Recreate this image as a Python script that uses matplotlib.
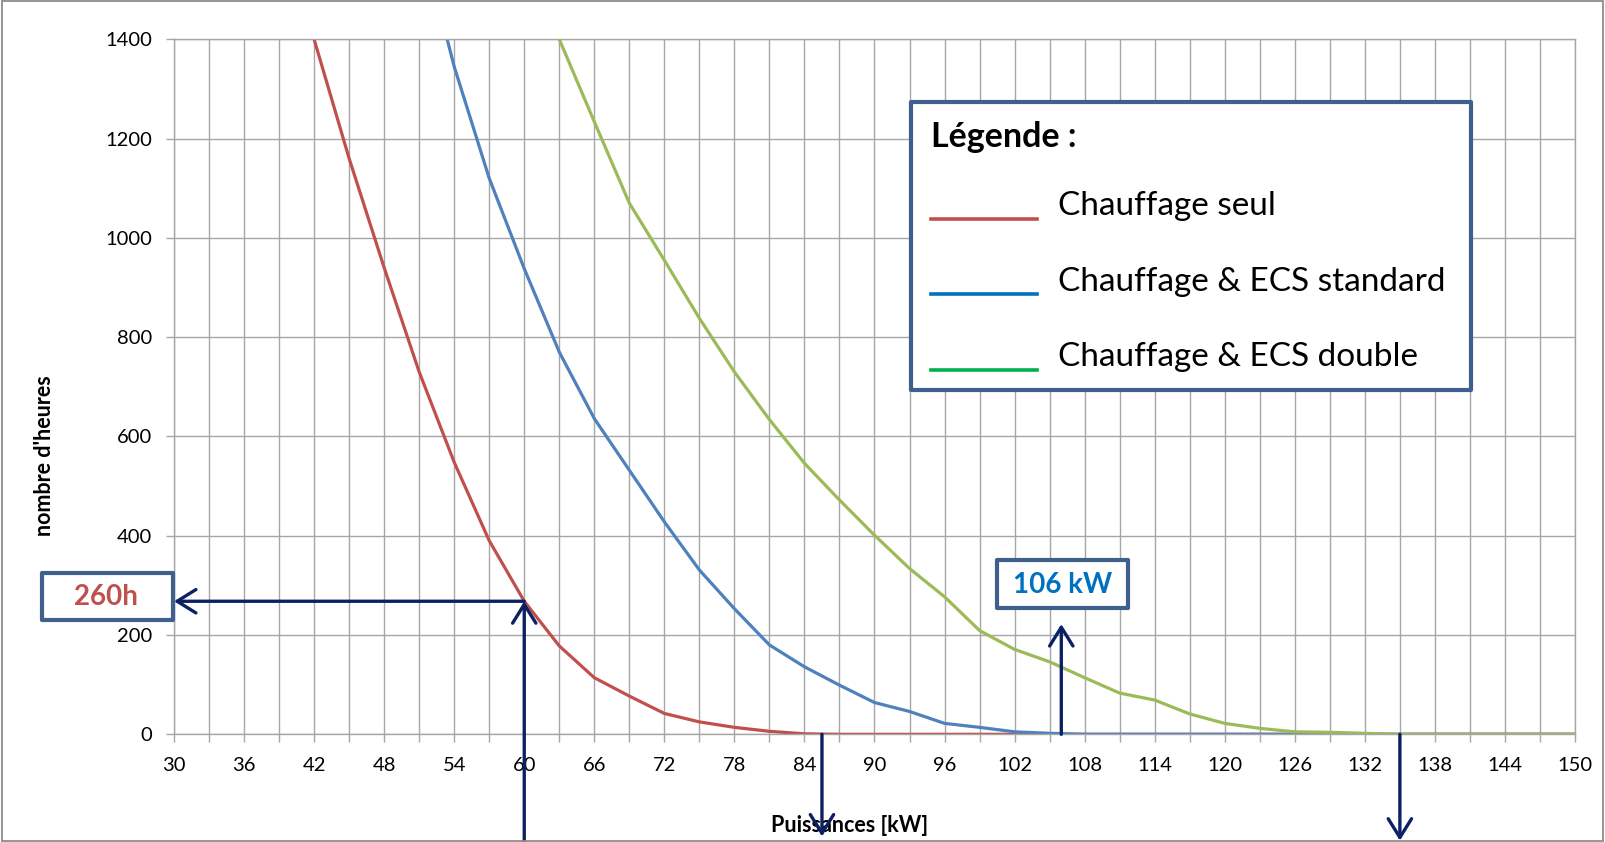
import matplotlib
matplotlib.use("Agg")
import matplotlib.pyplot as plt
import numpy as np
from matplotlib.patches import Rectangle
from matplotlib.lines import Line2D

plt.rcParams['font.family'] = ['Lato', 'DejaVu Sans']

# ---------------- data ----------------
puissance = [30, 33, 36, 39, 42, 45, 48, 51, 54, 57, 60, 63, 66, 69, 72, 75, 78, 81, 84, 87,
             90, 93, 96, 99, 102, 105, 108, 111, 114, 117, 120, 123, 126, 129, 132, 135,
             138, 141, 144, 147, 150]
chauffage_seul = [None, None, None, None, 1400, 1160, 940, 730, 548, 390, 268, 178, 114, 77, 42, 25, 14, 6, 1, 0,
                  0, 0, 0, 0, 0, 0, 0, 0, 0, 0, 0, 0, 0, 0, 0, 0,
                  0, 0, 0, 0, 0]
ecs_standard = [None, None, None, None, None, None, None, 1620, 1345, 1120, 938, 770, 636, 532, 428, 331, 253, 180, 136, 99,
                64, 46, 22, 14, 5, 2, 0, 0, 0, 0, 0, 0, 0, 0, 0, 0,
                0, 0, 0, 0, 0]
ecs_double = [None, None, None, None, None, None, None, None, None, None, 1560, 1400, 1234, 1070, 955, 838, 730, 634, 546, 472,
              401, 334, 277, 209, 171, 146, 114, 83, 69, 41, 22, 12, 5, 4, 2, 0,
              0, 0, 0, 0, 0]

series_labels = ["Chauffage seul", "Chauffage & ECS standard", "Chauffage & ECS double"]
curve_colors = ["#C0504D", "#4F81BD", "#9BBB59"]
legend_colors = ["#C0504D", "#0070C0", "#00B050"]

x_ticks = list(range(30, 151, 6))
x_minor = list(range(30, 151, 3))
y_ticks = list(range(0, 1401, 200))

# annotation values
p_seul = 60
label_seul = "260h"
p_zero_seul = 85.5
p_standard = 106
label_standard = "106 kW"
p_zero_double = 135

# ---------------- figure ----------------
W, H = 1606, 842
fig = plt.figure(figsize=(W / 100, H / 100), dpi=100)

def fx(x):
    return x / W

def fy(y):
    return 1 - y / H

ax = fig.add_axes([fx(174), fy(734.3), (1575 - 174) / W, 695 / H])

grid_c = "#A6A6A6"
ax.set_xlim(30, 150)
ax.set_ylim(0, 1400)
ax.set_xticks(x_minor, minor=True)
ax.set_xticks(x_ticks)
ax.set_yticks(y_ticks)
ax.grid(True, which='both', axis='x', color=grid_c, lw=1.0)
ax.grid(True, which='major', axis='y', color=grid_c, lw=1.0)
ax.set_axisbelow(True)
for s in ax.spines.values():
    s.set_color(grid_c)
    s.set_linewidth(1.0)
ax.tick_params(axis='both', which='both', color=grid_c, length=6, width=1.0,
               labelsize=14.5, labelcolor='black')
ax.tick_params(axis='x', which='major', pad=10.5)
ax.tick_params(axis='y', which='major', pad=10)

def arr(v):
    return np.array([np.nan if a is None else a for a in v], dtype=float)

xs = np.array(puissance, dtype=float)
for vals, col in zip([chauffage_seul, ecs_standard, ecs_double], curve_colors):
    ax.plot(xs, arr(vals), color=col, lw=2.3, solid_joinstyle='round')

ax.set_xlabel("Puissances [kW]", fontsize=15.5, fontweight='bold')
ax.set_ylabel("nombre d'heures", fontsize=15.5, fontweight='bold')
# label centres (figure px): x-label (850, 826), y-label (45, 456)
ax.xaxis.set_label_coords((850 - 174) / 1401, (734.3 - 826) / 695)
ax.yaxis.set_label_coords((45 - 174) / 1401, (734.3 - 456) / 695)
ax.xaxis.label.set_va('center')
ax.yaxis.label.set_va('center')

# ---------------- arrows ----------------
navy = "#0C2163"
aprops = dict(arrowstyle='->,head_length=0.45,head_width=0.28', color=navy, lw=2.4,
              mutation_scale=30, shrinkA=0, shrinkB=0)

h_seul = chauffage_seul[puissance.index(p_seul)]
# vertical arrow from bottom up to curve at 60 kW
ax.annotate('', xy=(p_seul, h_seul), xycoords='data',
            xytext=(p_seul, -0.16), textcoords=('data', 'axes fraction'),
            arrowprops=aprops, annotation_clip=False)
# horizontal arrow to the 260h box
ax.annotate('', xy=(30, h_seul), xycoords='data',
            xytext=(p_seul, h_seul), textcoords='data',
            arrowprops=aprops, annotation_clip=False)
# down arrows
ax.annotate('', xy=(p_zero_seul, -0.147), xycoords=('data', 'axes fraction'),
            xytext=(p_zero_seul, 0), textcoords='data',
            arrowprops=aprops, annotation_clip=False)
ax.annotate('', xy=(p_zero_double, -0.153), xycoords=('data', 'axes fraction'),
            xytext=(p_zero_double, 0), textcoords='data',
            arrowprops=aprops, annotation_clip=False)
# up arrow at 106 kW
ax.annotate('', xy=(p_standard, 222), xycoords='data',
            xytext=(p_standard, 0), textcoords='data',
            arrowprops=aprops, annotation_clip=False)

# ---------------- boxes ----------------
box_c = "#3F5F8C"

def box(x0, y0, x1, y1, lw=3.0):
    r = Rectangle((fx(x0), fy(y1)), fx(x1) - fx(x0), fy(y0) - fy(y1),
                  transform=fig.transFigure, facecolor='white', edgecolor=box_c,
                  lw=lw, zorder=10, joinstyle='round')
    fig.patches.append(r)

box(42, 573, 173, 620)
fig.text(fx(106), fy(597), label_seul, color="#C0504D", fontsize=20,
         fontweight='bold', ha='center', va='center', zorder=11)

box(997, 560, 1128, 608)
fig.text(fx(1063), fy(585), label_standard, color="#0070C0", fontsize=20,
         fontweight='bold', ha='center', va='center', zorder=11)

# legend box
box(911, 102, 1471, 390)
fig.text(fx(931), fy(137), "Légende :", fontsize=24.5, fontweight='bold',
         ha='left', va='center', zorder=11)
leg_y = [219, 294, 370]
txt_y = [206, 282, 357]
for lab, col, ly, ty in zip(series_labels, legend_colors, leg_y, txt_y):
    fig.lines.append(Line2D([fx(931), fx(1037)], [fy(ly), fy(ly)],
                            transform=fig.transFigure, color=col, lw=2.6, zorder=11))
    fig.text(fx(1058), fy(ty), lab, fontsize=24, ha='left', va='center', zorder=11)

# outer frame
fig.patches.append(Rectangle((fx(2.5), fy(840.5)), fx(1603.5) - fx(2.5), fy(1.5) - fy(840.5),
                             transform=fig.transFigure, fill=False, edgecolor="#8C8C8C",
                             lw=1.3, zorder=20))

fig.savefig("out.png", dpi=100)
